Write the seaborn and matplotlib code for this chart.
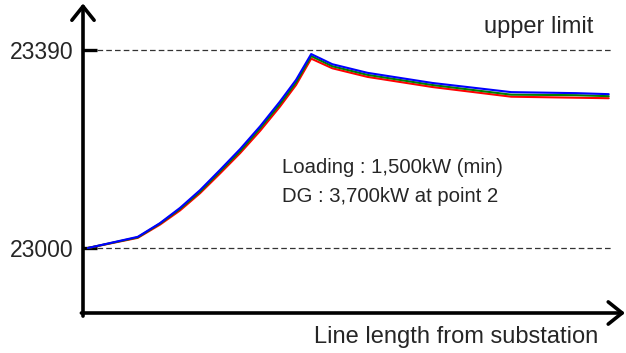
import numpy as np
import pandas as pd
import matplotlib
matplotlib.use('Agg')
import matplotlib.pyplot as plt
import seaborn as sns

# distance along the feeder (arbitrary km) and voltage profiles of three cases
distance = [0.09, 1.01, 1.42, 1.79, 2.16, 2.53, 2.90, 3.27, 3.63, 3.93, 4.21,
            4.6, 5.25, 6.45, 7.9, 9.1, 9.7]
volt_red = [23000, 23020, 23046, 23074, 23108, 23147, 23187, 23231, 23278, 23321, 23373,
            23354, 23337, 23317, 23298, 23296, 23295]
volt_green = [23000, 23021, 23048, 23077, 23111, 23151, 23191, 23236, 23283, 23326, 23378,
              23358, 23341, 23321, 23302, 23301, 23299]
volt_blue = [23000, 23022, 23049, 23079, 23114, 23154, 23195, 23240, 23288, 23331, 23382,
             23362, 23345, 23325, 23307, 23305, 23303]
lower_ref = 23000
upper_ref = 23390

df = pd.concat([
    pd.DataFrame({'distance': distance, 'voltage': volt_red, 'case': 'red'}),
    pd.DataFrame({'distance': distance, 'voltage': volt_green, 'case': 'green'}),
    pd.DataFrame({'distance': distance, 'voltage': volt_blue, 'case': 'blue'}),
])

sns.set_style('white')
plt.rcParams['font.family'] = ['Liberation Sans', 'DejaVu Sans']

fig = plt.figure(figsize=(6.26, 3.53), dpi=100)
ax = fig.add_axes([83 / 626, 40 / 353, 542 / 626, 308 / 353])

sns.lineplot(data=df, x='distance', y='voltage', hue='case', hue_order=['red', 'green', 'blue'],
             palette={'red': '#ff0000', 'green': '#008000', 'blue': '#0000ff'},
             lw=1.5, legend=False, ax=ax, estimator=None, sort=False)

ax.set_xlim(0, 10)
ax.set_ylim(22872, 23478.6)

# dashed reference lines
for v in [lower_ref, upper_ref]:
    ax.axhline(v, xmin=0.026, xmax=0.978, color='#333333', lw=0.9, dashes=(4.5, 2.5), zorder=1)

# axes drawn as arrows instead of spines
for s in ax.spines.values():
    s.set_visible(False)
arrow = dict(arrowstyle='->,head_length=1.0,head_width=0.8', lw=2.6, color='black',
             shrinkA=0, shrinkB=0)
ax.annotate('', xy=(0, 1.005), xytext=(0, -0.01), xycoords='axes fraction', arrowprops=arrow)
ax.annotate('', xy=(1, 0), xytext=(-0.003, 0), xycoords='axes fraction', arrowprops=arrow)

ax.set_xticks([])
ax.set_yticks([lower_ref, upper_ref])
ax.set_yticklabels([str(lower_ref), str(upper_ref)])
ax.tick_params(axis='y', direction='in', length=10, width=2.4, color='black',
               pad=7, labelsize=16.5, labelcolor='#262626', left=True)
ax.set_xlabel('')
ax.set_ylabel('')

ax.text(9.41, 23423.5, 'upper limit', ha='right', va='baseline', fontsize=17, color='#262626')
ax.text(3.67, 23148, 'Loading : 1,500kW (min)', ha='left', va='baseline', fontsize=14.6, color='#262626')
ax.text(3.67, 23091, 'DG : 3,700kW at point 2', ha='left', va='baseline', fontsize=14.6, color='#262626')
ax.text(0.95, -0.096, 'Line length from substation', transform=ax.transAxes,
        ha='right', va='baseline', fontsize=17, color='#262626')

fig.savefig('out.png', dpi=100)
